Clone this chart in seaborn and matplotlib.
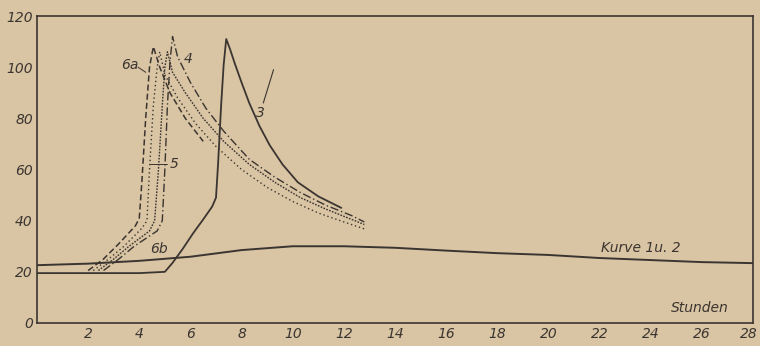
import numpy as np
import pandas as pd
import seaborn as sns
import matplotlib
matplotlib.use("Agg")
import matplotlib.pyplot as plt
import matplotlib.transforms as mtransforms

# ---- data (hours, temperature-like values) ----
k12_x = [0, 2, 4, 6, 8, 10, 12, 14, 16, 18, 20, 22, 24, 26, 28]
k12_y = [22.6, 23.2, 24.3, 25.9, 28.5, 30.0, 30.0, 29.4, 28.3, 27.3, 26.6, 25.4, 24.6, 23.8, 23.4]

k3_x = [0, 2, 4, 5.0, 5.3, 5.7, 6.1, 6.5, 6.85, 7.0, 7.08, 7.2, 7.3, 7.4, 7.55, 7.75, 8.0, 8.3, 8.7, 9.1, 9.6, 10.2, 11.0, 11.9]
k3_y = [19.5, 19.5, 19.5, 20, 23.5, 29, 35, 40.5, 45.5, 49, 62, 85, 101, 111, 107, 101, 94, 86, 77, 69.5, 62, 55, 49.5, 45]

k4_x = [2.6, 3.2, 3.8, 4.7, 4.9, 5.0, 5.1, 5.2, 5.3, 5.5, 6.0, 6.6, 7.3, 8.3, 9.3, 10.3, 11.3, 12.3, 12.8]
k4_y = [20.5, 25, 30, 36, 40, 60, 85, 102, 112, 104, 94, 84, 75, 64, 57, 51, 46, 42, 39.5]

k5_x = [2.4, 3.0, 3.6, 4.4, 4.6, 4.75, 4.9, 5.0, 5.1, 5.3, 5.8, 6.5, 7.3, 8.3, 9.3, 10.3, 11.3, 12.3, 12.8]
k5_y = [20.5, 25, 30, 36, 40, 60, 85, 100, 106, 98, 90, 80, 71, 62, 55, 49, 44.5, 40.5, 38.5]

k6a_x = [2.0, 2.6, 3.2, 3.85, 4.0, 4.1, 4.25, 4.4, 4.55, 4.8, 5.2, 5.8, 6.5]
k6a_y = [20.5, 25, 31, 38, 41, 55, 80, 100, 108, 100, 90, 80, 71]

k6b_x = [2.2, 2.8, 3.4, 4.1, 4.3, 4.4, 4.55, 4.7, 4.8, 5.0, 5.5, 6.2, 7.0, 8.0, 9.0, 10.0, 11.0, 12.0, 12.8]
k6b_y = [20.5, 25, 30, 37, 40, 60, 85, 100, 106, 97, 88, 78, 69, 60, 53, 47.5, 43, 39.5, 36.8]

x_ticks = [2, 4, 6, 8, 10, 12, 14, 16, 18, 20, 22, 24, 26, 28]
y_ticks = [0, 20, 40, 60, 80, 100, 120]

BG = "#d9c4a3"
INK = "#3b3531"

sns.set_theme(style="white")
plt.rcParams['font.family'] = ['DejaVu Sans']

fig = plt.figure(figsize=(7.6, 3.46), dpi=100, facecolor=BG)
ax = fig.add_axes([37/760, 23/346, (753-37)/760, (323-16)/346])
ax.set_facecolor(BG)

def draw(x, y, dashes=None, lw=1.0):
    df = pd.DataFrame({"x": x, "y": y})
    sns.lineplot(data=df, x="x", y="y", ax=ax, sort=False, estimator=None,
                 color=INK, linewidth=lw)
    l = ax.lines[-1]
    if dashes is not None:
        l.set_dashes(dashes)
    l.set_solid_joinstyle("round")
    return l

draw(k12_x, k12_y, lw=1.4)
draw(k3_x, k3_y, lw=1.3)
draw(k4_x, k4_y, dashes=(6, 2, 1, 2), lw=1.0)
draw(k5_x, k5_y, dashes=(1.2, 1.0), lw=1.0)
draw(k6a_x, k6a_y, dashes=(4, 2), lw=1.1)
draw(k6b_x, k6b_y, dashes=(1, 2), lw=1.0)

ax.set_xlim(0, 28)
ax.set_ylim(0, 120)
ax.set_xlabel("")
ax.set_ylabel("")
ax.set_xticks(x_ticks)
ax.set_yticks(y_ticks)
ax.set_xticklabels([str(t) for t in x_ticks], fontstyle="italic", fontsize=10, color=INK)
ax.set_yticklabels([str(t) for t in y_ticks], fontstyle="italic", fontsize=10, color=INK)
ax.tick_params(axis="both", direction="in", length=4, width=0.8, color=INK, pad=3)
last = ax.get_xticklabels()[-1]
last.set_transform(last.get_transform() + mtransforms.ScaledTranslation(-4/100, 0, fig.dpi_scale_trans))
for s in ax.spines.values():
    s.set_color(INK)
    s.set_linewidth(1.2)

tkw = dict(fontstyle="italic", fontsize=10, color=INK)
ax.text(3.95, 101, "6a", ha="right", va="center", **tkw)
ax.plot([3.95, 4.25], [100, 98], color=INK, lw=0.7)
ax.text(5.9, 103, "4", ha="center", va="center", **tkw)
ax.text(8.75, 82, "3", ha="center", va="center", **tkw)
ax.plot([8.85, 9.25], [86, 99], color=INK, lw=0.8)
ax.text(5.2, 62, "5", ha="left", va="center", **tkw)
ax.plot([4.4, 5.1], [62, 62], color=INK, lw=0.7)
ax.text(4.75, 29, "6b", ha="center", va="center", **tkw)
ax.text(23.6, 29.5, "Kurve 1u. 2", ha="center", va="center", **tkw)
ax.text(25.9, 6, "Stunden", ha="center", va="center", **tkw)

fig.savefig("out.png", dpi=100, facecolor=BG)
